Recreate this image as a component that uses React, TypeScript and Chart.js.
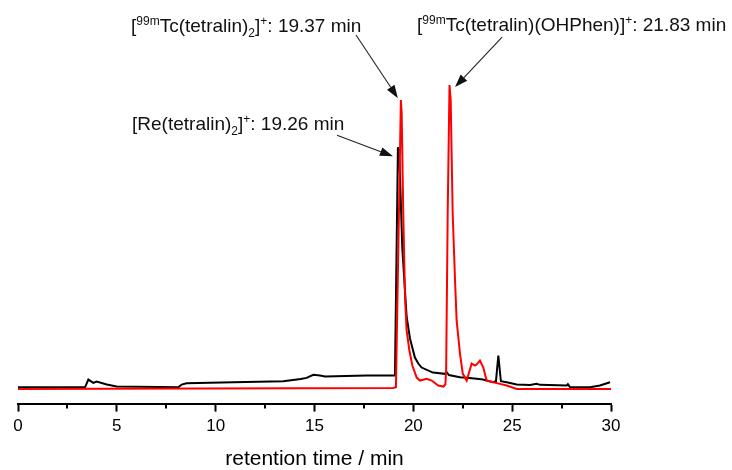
import React, { useEffect, useRef } from 'react';
import { Chart, registerables } from 'chart.js';

Chart.register(...registerables);

// Black trace: [Re(tetralin)2]+ (UV/Vis)
const blackTime = [
  0, 3.39, 3.56, 3.81, 3.98, 4.49, 4.99, 8.11, 8.28, 8.53, 10.89, 13.42, 14.3, 14.6, 14.94, 15.28,
  15.53, 17.64, 18.97, 19.07, 19.22, 19.3, 19.44, 19.66, 19.83, 20.08, 20.25, 20.42, 20.99, 21.6,
  21.68, 21.8, 22.36, 22.7, 23.21, 23.52, 24.03, 24.18, 24.3, 24.43, 24.72, 25.23, 25.9, 26.24,
  26.41, 27.76, 27.82, 27.93, 28.94, 29.44, 29.95,
];
const blackSignal = [
  3.3, 3.3, 11, 7.7, 9, 6, 4, 3.3, 6, 7.3, 8.3, 9.3, 11.5, 12.7, 15.7, 15,
  14, 15, 15, 15, 243, 230, 143, 74, 52, 33, 27, 23, 18, 16.7,
  18.5, 15.5, 13.3, 12.7, 11.7, 11, 8.3, 9.3, 35, 9.3, 8.3, 6, 5.5, 6.7,
  5.7, 5, 6.5, 3.3, 3.3, 5, 8.3,
];

// Red trace: [99mTc] radio detector
const redTime = [
  0, 9.2, 18.97, 19.12, 19.37, 19.41, 19.49, 19.58, 19.66, 19.8, 19.95, 20.17, 20.34, 20.68, 20.93,
  21.26, 21.52, 21.62, 21.66, 21.74, 21.83, 21.89, 21.99, 22.11, 22.19, 22.36, 22.5, 22.7, 22.95,
  23.12, 23.2, 23.37, 23.54, 23.71, 24.05, 24.38, 24.72, 25.23, 30,
];
const redSignal = [
  1.7, 2, 2.7, 3.3, 290, 277, 177, 93, 60, 40, 25, 13, 10, 11.7, 10,
  5, 4, 6, 20, 180, 305, 290, 177, 110, 70, 37, 17, 10, 27,
  25, 26, 30, 23, 10, 8.3, 6.7, 5, 1.7, 1.7,
];

const majorTicks = [0, 5, 10, 15, 20, 25, 30];
const minorTicks = [2.5, 7.5, 12.5, 17.5, 22.5, 27.5];
const xTitle = 'retention time / min';

type Seg = { t: string; m: 'n' | 'sup' | 'sub' };

const label1: Seg[] = [
  { t: '[', m: 'n' }, { t: '99m', m: 'sup' }, { t: 'Tc(tetralin)', m: 'n' }, { t: '2', m: 'sub' },
  { t: ']', m: 'n' }, { t: '+', m: 'sup' }, { t: ': 19.37 min', m: 'n' },
];
const label2: Seg[] = [
  { t: '[', m: 'n' }, { t: '99m', m: 'sup' }, { t: 'Tc(tetralin)(OHPhen)]', m: 'n' },
  { t: '+', m: 'sup' }, { t: ': 21.83 min', m: 'n' },
];
const label3: Seg[] = [
  { t: '[Re(tetralin)', m: 'n' }, { t: '2', m: 'sub' }, { t: ']', m: 'n' },
  { t: '+', m: 'sup' }, { t: ': 19.26 min', m: 'n' },
];

// annotation anchors in data coordinates (time, signal)
const annotations = [
  { segs: label1, text: [5.72, 358], from: [17.1, 355], to: [19.22, 292] },
  { segs: label2, text: [20.19, 359], from: [24.49, 353], to: [22.11, 303] },
  { segs: label3, text: [5.77, 260], from: [16.14, 255], to: [18.97, 234] },
];

const FONT = '"Liberation Sans", Arial, Helvetica, sans-serif';

function drawRich(ctx: CanvasRenderingContext2D, segs: Seg[], x: number, y: number, size: number) {
  let cx = x;
  ctx.textBaseline = 'alphabetic';
  ctx.textAlign = 'left';
  for (const s of segs) {
    const small = s.m !== 'n';
    const fs = small ? Math.round(size * 0.62) : size;
    ctx.font = `${fs}px ${FONT}`;
    const dy = s.m === 'sup' ? -size * 0.37 : s.m === 'sub' ? size * 0.27 : 0;
    ctx.fillText(s.t, cx, y + dy);
    cx += ctx.measureText(s.t).width;
  }
}

function drawArrow(ctx: CanvasRenderingContext2D, x1: number, y1: number, x2: number, y2: number) {
  const ang = Math.atan2(y2 - y1, x2 - x1);
  const len = 13;
  const half = 4.5;
  const bx = x2 - len * Math.cos(ang);
  const by = y2 - len * Math.sin(ang);
  ctx.beginPath();
  ctx.moveTo(x1, y1);
  ctx.lineTo(bx, by);
  ctx.lineWidth = 1.1;
  ctx.strokeStyle = '#222';
  ctx.stroke();
  ctx.beginPath();
  ctx.moveTo(x2, y2);
  ctx.lineTo(bx + half * Math.sin(ang), by - half * Math.cos(ang));
  ctx.lineTo(bx - half * Math.sin(ang), by + half * Math.cos(ang));
  ctx.closePath();
  ctx.fillStyle = '#111';
  ctx.fill();
}

const overlayPlugin = {
  id: 'overlay',
  afterDraw(chart: any) {
    const ctx: CanvasRenderingContext2D = chart.ctx;
    const xs = chart.scales.x;
    const ys = chart.scales.y;
    const bottom = chart.chartArea.bottom;
    ctx.save();
    // minor ticks
    ctx.strokeStyle = '#000';
    ctx.lineWidth = 2;
    for (const v of minorTicks) {
      const px = Math.round(xs.getPixelForValue(v));
      ctx.beginPath();
      ctx.moveTo(px, bottom);
      ctx.lineTo(px, bottom + 5);
      ctx.stroke();
    }
    // annotations
    for (const a of annotations) {
      ctx.fillStyle = '#111';
      drawRich(ctx, a.segs, xs.getPixelForValue(a.text[0]), ys.getPixelForValue(a.text[1]), 19);
      drawArrow(
        ctx,
        xs.getPixelForValue(a.from[0]), ys.getPixelForValue(a.from[1]),
        xs.getPixelForValue(a.to[0]), ys.getPixelForValue(a.to[1]),
      );
    }
    ctx.restore();
  },
};

export default function App() {
  const ref = useRef<HTMLCanvasElement | null>(null);
  useEffect(() => {
    if (!ref.current) return;
    const chart = new Chart(ref.current, {
      type: 'line',
      data: {
        datasets: [
          {
            label: 'radio',
            data: redTime.map((t, i) => ({ x: t, y: redSignal[i] })),
            borderColor: 'rgb(255,0,0)',
            borderWidth: 2,
            pointRadius: 0,
            tension: 0,
            fill: false,
          },
          {
            label: 'UV',
            data: blackTime.map((t, i) => ({ x: t, y: blackSignal[i] })),
            borderColor: '#000',
            borderWidth: 2,
            pointRadius: 0,
            tension: 0,
            fill: false,
          },
        ],
      },
      options: {
        animation: false,
        responsive: false,
        maintainAspectRatio: false,
        layout: { padding: { left: 18, right: 121, top: 10, bottom: 0 } },
        plugins: { legend: { display: false }, tooltip: { enabled: false } },
        scales: {
          x: {
            type: 'linear',
            min: 0,
            max: 30,
            afterBuildTicks: (scale: any) => {
              scale.ticks = majorTicks.map((v) => ({ value: v }));
            },
            ticks: {
              color: '#000',
              font: { family: FONT, size: 17 },
              padding: 5,
              maxRotation: 0,
              autoSkip: false,
            },
            grid: {
              display: true,
              drawOnChartArea: false,
              drawTicks: true,
              tickLength: 8,
              tickWidth: 2,
              tickColor: '#000',
            },
            border: { display: true, color: '#000', width: 2 },
            title: {
              display: true,
              text: xTitle,
              color: '#000',
              font: { family: FONT, size: 21, lineHeight: 1 },
              padding: { top: 7, bottom: 0 },
            },
          },
          y: {
            display: false,
            min: -13,
            max: 380,
          },
        },
      },
      plugins: [overlayPlugin],
    });
    return () => chart.destroy();
  }, []);
  return (
    <div style={{ position: 'absolute', left: 0, top: 0, width: 732, height: 470, background: '#fff' }}>
      <canvas ref={ref} width={732} height={470} />
    </div>
  );
}
